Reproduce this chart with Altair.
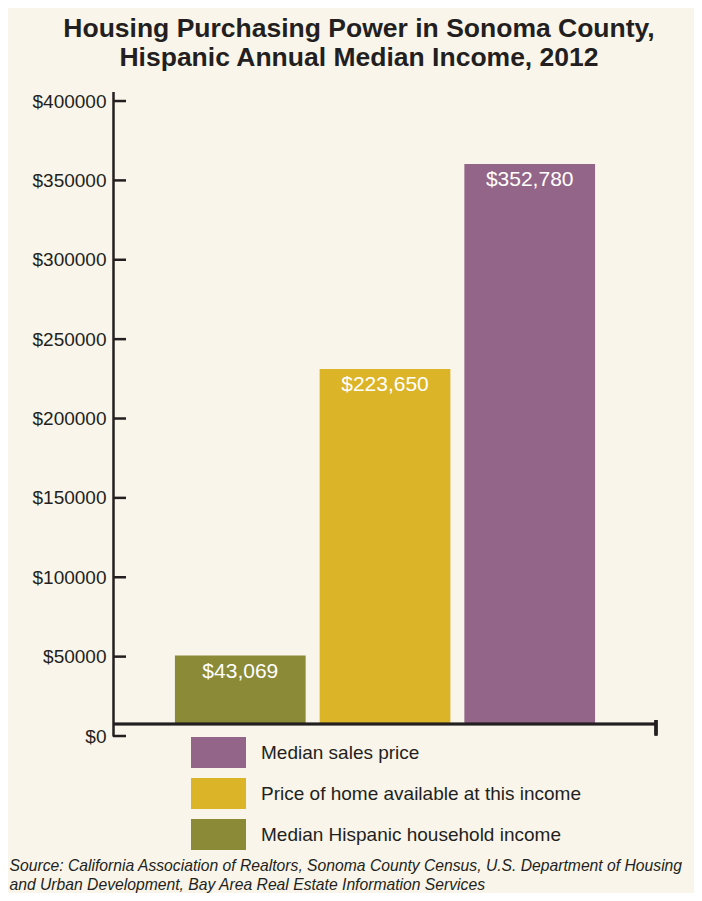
import altair as alt
import pandas as pd

# ---- data ----
categories = [
    "Median Hispanic household income",
    "Price of home available at this income",
    "Median sales price",
]
values = [43069, 223650, 352780]
legend_order = [
    "Median sales price",
    "Price of home available at this income",
    "Median Hispanic household income",
]
legend_colors = ["#936689", "#dcb428", "#8a8a37"]
y_ticks = [0, 50000, 100000, 150000, 200000, 250000, 300000, 350000, 400000]
title_lines = [
    "Housing Purchasing Power in Sonoma County,",
    "Hispanic Annual Median Income, 2012",
]
source_lines = [
    "Source: California Association of Realtors, Sonoma County Census, U.S. Department of Housing",
    "and Urban Development, Bay Area Real Estate Information Services",
]

BASE = 7600  # bars rise from the drawn x-axis line, slightly above $0
INK = "#231f20"
FONT = "Liberation Sans"
W, H = 544, 644.5

df = pd.DataFrame({"series": categories, "value": values})
ticks_df = pd.DataFrame({"tick": y_ticks})

yscale = alt.Scale(domain=[0, 406000], nice=False, zero=False)

base = alt.Chart(df).transform_calculate(
    top=f"datum.value + {BASE}",
    label="'$' + format(datum.value, ',')",
)

xenc = alt.X(
    "series:N",
    sort=categories,
    scale=alt.Scale(paddingInner=0.0966, paddingOuter=0.428),
    axis=alt.Axis(
        labels=False, ticks=False, domain=False, grid=False,
        title=source_lines, titleFont=FONT, titleFontSize=15.7,
        titleFontStyle="italic", titleFontWeight="normal", titleColor=INK,
        titleAnchor="start", titleAlign="left", titleBaseline="alphabetic",
        titleX=-104, titleY=134.5, titleLineHeight=18.5, titleLimit=0,
    ),
)

bars = base.mark_bar().encode(
    x=xenc,
    y=alt.Y(
        "top:Q", scale=yscale,
        axis=alt.Axis(
            values=y_ticks, labelExpr="'$' + datum.value", title=None,
            ticks=False, grid=False, domainColor=INK, domainWidth=2.5,
            labelFont=FONT, labelFontSize=19, labelColor=INK, labelPadding=7,
        ),
    ),
    y2=alt.datum(BASE),
    color=alt.Color(
        "series:N",
        scale=alt.Scale(domain=legend_order, range=legend_colors),
        legend=alt.Legend(
            title=None, orient="none", legendX=90, legendY=645.5,
            symbolType="M-1.774,-1L1.774,-1L1.774,1L-1.774,1Z",
            symbolSize=961, symbolStrokeWidth=0, symbolOpacity=1,
            labelFont=FONT, labelFontSize=19, labelColor=INK, labelLimit=0,
            labelOffset=27, rowPadding=10, padding=0,
        ),
    ),
)

labels = base.mark_text(
    color="white", font=FONT, fontSize=21, baseline="middle", dy=16
).encode(x=alt.X("series:N", sort=categories), y=alt.Y("top:Q", scale=yscale), text="label:N")

ytick_marks = alt.Chart(ticks_df).mark_rule(color=INK, strokeWidth=2.5).encode(
    y=alt.Y("tick:Q", scale=yscale), x=alt.value(0), x2=alt.value(13)
)

xline = alt.Chart(df).mark_rule(color=INK, strokeWidth=2.5).encode(
    y=alt.datum(BASE), x=alt.value(0), x2=alt.value(W)
)
xend = alt.Chart(df).mark_rule(color=INK, strokeWidth=3).encode(
    x=alt.value(543), y=alt.value(628.5), y2=alt.value(644)
)

chart = alt.layer(bars, labels, ytick_marks, xline, xend).properties(
    width=W, height=H,
    autosize=alt.AutoSizeParams(type="none"),
    padding={"left": 105, "top": 83.5, "right": 37, "bottom": 157},
    background="#f9f5ea",
    title=alt.TitleParams(
        text=title_lines, font=FONT, fontSize=26.5, fontWeight="bold",
        color=INK, anchor="middle", dx=-26, offset=20, lineHeight=29,
    ),
).configure_view(stroke=None)

chart.save("out.html", embed_options={"renderer": "svg", "actions": False})
